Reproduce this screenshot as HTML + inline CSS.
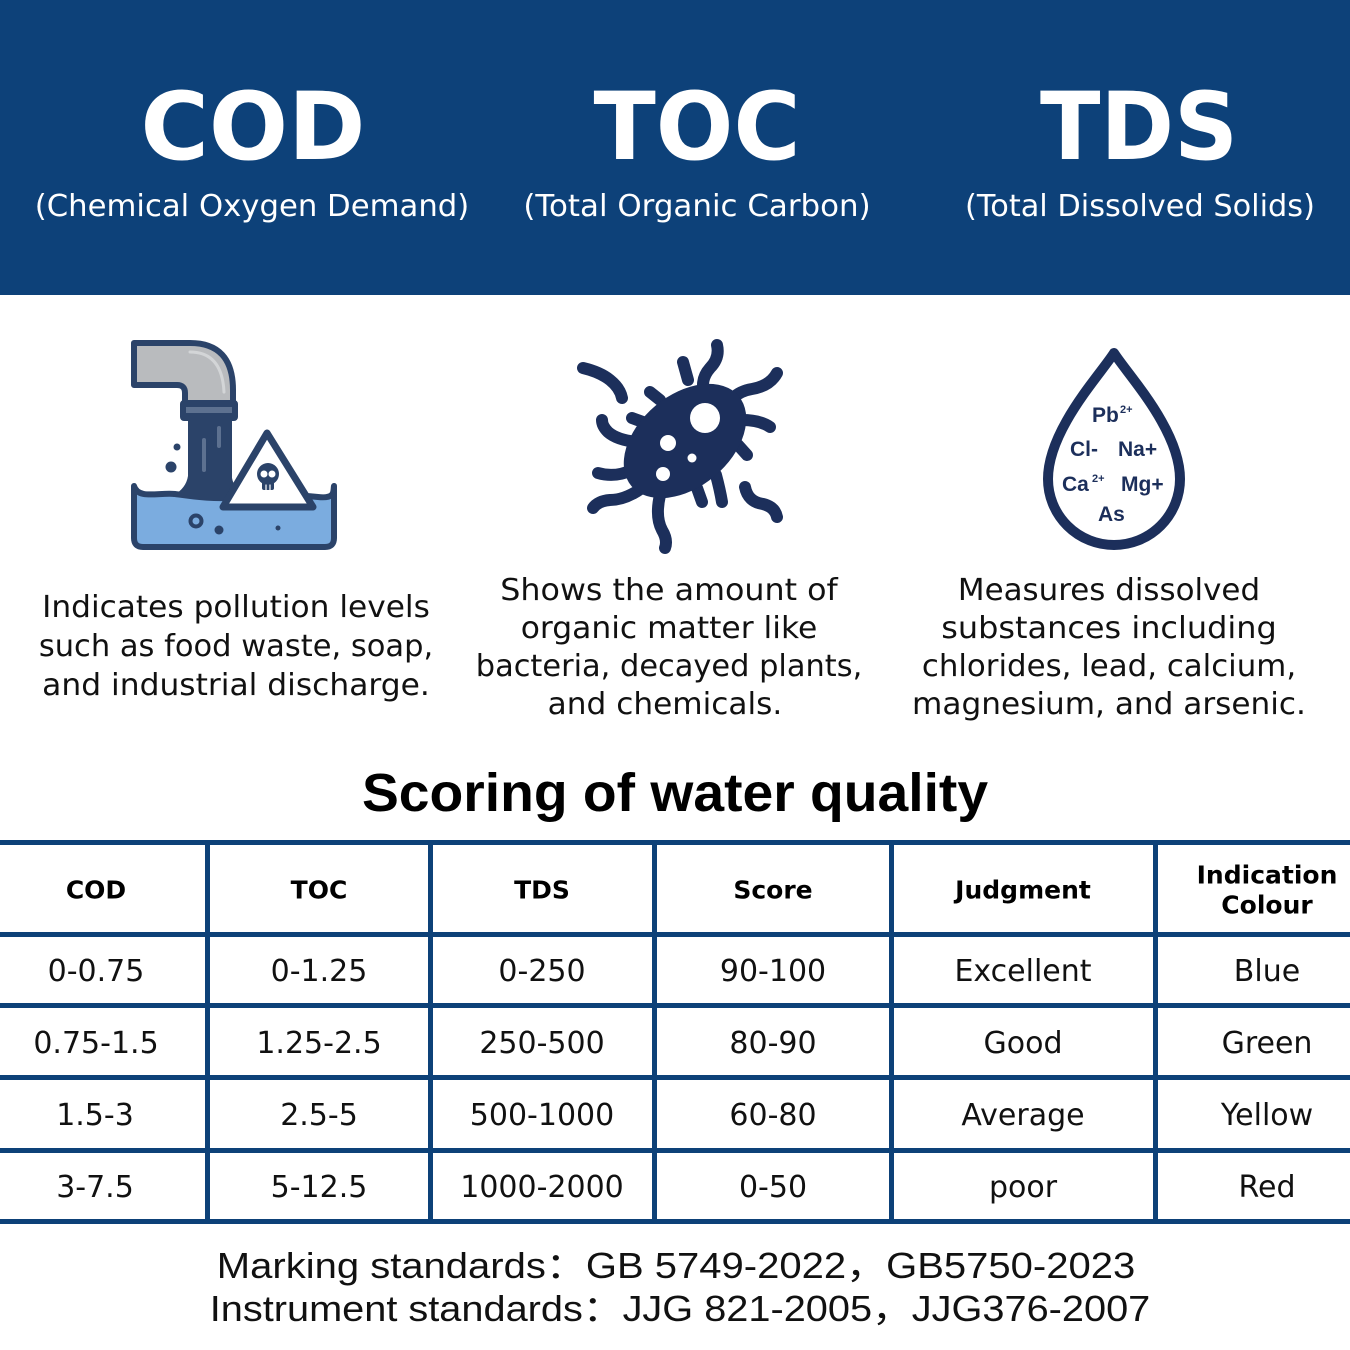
<!DOCTYPE html>
<html>
<head>
<meta charset="utf-8">
<style>
  html,body{margin:0;padding:0;background:#fff;}
  #wrap{position:relative;width:1350px;height:1350px;overflow:hidden;background:#fff;}
  svg.bg{position:absolute;left:0;top:0;}
  .ln{position:absolute;white-space:nowrap;line-height:1;transform:translate(-50%,-50%);transform-origin:50% 50%;}
  .hd{font-family:"DejaVu Sans",sans-serif;font-weight:bold;font-size:94px;color:#fff;}
  .sub{font-family:"DejaVu Sans",sans-serif;font-size:30px;color:#fff;}
  .body{font-family:"DejaVu Sans",sans-serif;font-size:30.5px;color:#111;}
  .ttl{font-family:"Liberation Sans",sans-serif;font-weight:bold;font-size:54px;color:#000;}
  .th{font-family:"DejaVu Sans",sans-serif;font-weight:bold;font-size:25px;color:#000;}
  .td{font-family:"DejaVu Sans",sans-serif;font-size:30px;color:#111;}
  .ft{font-family:"Liberation Sans","Noto Sans CJK SC",sans-serif;font-size:36px;color:#111;}
</style>
</head>
<body>
<div id="wrap">
<svg class="bg" width="1350" height="1350" viewBox="0 0 1350 1350" xmlns="http://www.w3.org/2000/svg">
  <rect x="0" y="0" width="1350" height="295" fill="#0d4179"/>

  <!-- ===== Pipe icon ===== -->
  <g stroke="#2b4369" stroke-linejoin="round" stroke-linecap="round">
    <path d="M134 343 L190 343 Q233 343 233 390 L233 403 L185 403 L185 393 Q185 385 177 385 L134 385 Z" fill="#b9bbbe" stroke-width="6"/>
    <path d="M190 352 Q222 352 224 392" fill="none" stroke="#d3d5d7" stroke-width="3"/>
    <path d="M134 486 C138 500,160 492,175 494 S215 500,240 497 S300 495,318 497 S333 491,334 486 L334 538 Q334 547 325 547 L143 547 Q134 547 134 538 Z" fill="#7bacdf" stroke-width="6"/>
    <path d="M189 419 L231 419 L231 478 Q233 490 246 496 L174 496 Q187 489 189 476 Z" fill="#2b4369" stroke-width="2"/>
    <rect x="181" y="401" width="56" height="19" rx="3" fill="#2b4369" stroke-width="2"/>
    <rect x="186" y="407" width="46" height="6" fill="#5d7190" stroke="none"/>
    <line x1="204" y1="440" x2="204" y2="470" stroke="#5d7190" stroke-width="4"/>
    <line x1="219" y1="428" x2="219" y2="446" stroke="#5d7190" stroke-width="4"/>
    <path d="M267 433 L313 507 L223 507 Z" fill="#fff" stroke-width="7"/>
    <circle cx="268" cy="474" r="11" fill="#2b4369" stroke="none"/>
    <rect x="262" y="480" width="12" height="10" rx="2" fill="#2b4369" stroke="none"/>
    <circle cx="264" cy="474" r="3.5" fill="#fff" stroke="none"/>
    <circle cx="272" cy="474" r="3.5" fill="#fff" stroke="none"/>
    <line x1="266" y1="485" x2="266" y2="490" stroke="#fff" stroke-width="1.2"/>
    <line x1="270" y1="485" x2="270" y2="490" stroke="#fff" stroke-width="1.2"/>
    <circle cx="177" cy="447" r="3.5" fill="#2b4369" stroke="none"/>
    <circle cx="171" cy="467" r="5.5" fill="#2b4369" stroke="none"/>
    <circle cx="196" cy="521" r="5.5" fill="none" stroke-width="4"/>
    <circle cx="219" cy="530" r="4.5" fill="#2b4369" stroke="none"/>
    <circle cx="278" cy="528" r="2.5" fill="#2b4369" stroke="none"/>
  </g>

  <!-- ===== Bacteria icon ===== -->
  <g fill="none" stroke="#1c2f5b" stroke-width="12" stroke-linecap="round" stroke-linejoin="round">
    <path d="M583 368 Q600 372 610 380 Q620 388 622 398"/>
    <path d="M683 362 L688 380"/>
    <path d="M717 345 Q720 358 710 368 Q703 376 703 385"/>
    <path d="M777 373 Q770 386 752 389 Q740 391 733 398"/>
    <path d="M770 427 Q760 420 742 420"/>
    <path d="M747 455 L738 445"/>
    <path d="M745 487 Q748 502 763 504 Q775 507 777 517"/>
    <path d="M716 475 Q720 490 722 502"/>
    <path d="M697 488 L702 502"/>
    <path d="M660 495 Q655 517 662 530 Q668 540 665 548"/>
    <path d="M642 488 Q625 500 610 500 Q598 501 593 508"/>
    <path d="M632 470 Q615 478 598 473"/>
    <path d="M637 442 Q617 440 608 432 Q602 426 602 420"/>
    <path d="M632 418 L643 422"/>
    <path d="M650 392 L660 400"/>
  </g>
  <ellipse cx="685" cy="441" rx="70" ry="46" transform="rotate(-40 685 441)" fill="#1c2f5b"/>
  <circle cx="705" cy="418" r="15" fill="#fff"/>
  <circle cx="668" cy="443" r="8" fill="#fff"/>
  <circle cx="692" cy="458" r="4.5" fill="#fff"/>
  <circle cx="663" cy="474" r="7" fill="#fff"/>

  <!-- ===== Drop icon ===== -->
  <path d="M1114 353 C1100 375,1048 430,1048 479 A66 66 0 0 0 1180 479 C1180 430,1128 375,1114 353 Z" fill="#fff" stroke="#1c2f5b" stroke-width="10" stroke-linejoin="round"/>
  <g font-family="Liberation Sans, sans-serif" font-weight="bold" fill="#1c2f5b">
    <text x="1092" y="422" font-size="21">Pb</text>
    <text x="1120" y="413" font-size="11">2+</text>
    <text x="1070" y="456" font-size="21">Cl-</text>
    <text x="1118" y="456" font-size="21">Na+</text>
    <text x="1062" y="491" font-size="21">Ca</text>
    <text x="1092" y="482" font-size="11">2+</text>
    <text x="1121" y="491" font-size="21">Mg+</text>
    <text x="1098" y="521" font-size="21">As</text>
  </g>

  <!-- ===== Table lines ===== -->
  <g fill="#0d4178">
    <rect x="0" y="840" width="1350" height="5"/>
    <rect x="0" y="932" width="1350" height="5"/>
    <rect x="0" y="1003" width="1350" height="5"/>
    <rect x="0" y="1075" width="1350" height="5"/>
    <rect x="0" y="1148" width="1350" height="5"/>
    <rect x="0" y="1219" width="1350" height="5"/>
    <rect x="205" y="840" width="5" height="384"/>
    <rect x="428" y="840" width="5" height="384"/>
    <rect x="652" y="840" width="5" height="384"/>
    <rect x="889" y="840" width="5" height="384"/>
    <rect x="1153" y="840" width="5" height="384"/>
  </g>
</svg>

<!-- header text -->
<div class="ln hd fit" style="left:253px;top:128px;--w:225">COD</div>
<div class="ln hd fit" style="left:697px;top:128px;--w:207">TOC</div>
<div class="ln hd fit" style="left:1139px;top:128px;--w:198">TDS</div>
<div class="ln sub fit" style="left:252px;top:207px;--w:435">(Chemical Oxygen Demand)</div>
<div class="ln sub fit" style="left:697px;top:207px;--w:347">(Total Organic Carbon)</div>
<div class="ln sub fit" style="left:1140px;top:207px;--w:350">(Total Dissolved Solids)</div>

<!-- descriptions -->
<div class="ln body fit" style="left:236px;top:608px;--w:388">Indicates pollution levels</div>
<div class="ln body fit" style="left:236px;top:647px;--w:394">such as food waste, soap,</div>
<div class="ln body fit" style="left:236px;top:686px;--w:388">and industrial discharge.</div>

<div class="ln body fit" style="left:669px;top:591px;--w:337">Shows the amount of</div>
<div class="ln body fit" style="left:669px;top:629px;--w:297">organic matter like</div>
<div class="ln body fit" style="left:669px;top:667px;--w:387">bacteria, decayed plants,</div>
<div class="ln body fit" style="left:665px;top:705px;--w:235">and chemicals.</div>

<div class="ln body fit" style="left:1109px;top:591px;--w:302">Measures dissolved</div>
<div class="ln body fit" style="left:1109px;top:629px;--w:335">substances including</div>
<div class="ln body fit" style="left:1109px;top:667px;--w:374">chlorides, lead, calcium,</div>
<div class="ln body fit" style="left:1109px;top:705px;--w:394">magnesium, and arsenic.</div>

<!-- title -->
<div class="ln ttl fit" style="left:675px;top:793px;--w:626">Scoring of water quality</div>

<!-- table header -->
<div class="ln th" style="left:96px;top:890px;">COD</div>
<div class="ln th" style="left:319px;top:890px;">TOC</div>
<div class="ln th" style="left:542px;top:890px;">TDS</div>
<div class="ln th" style="left:773px;top:890px;">Score</div>
<div class="ln th" style="left:1023px;top:890px;">Judgment</div>
<div class="ln th" style="left:1267px;top:875px;">Indication</div>
<div class="ln th" style="left:1267px;top:905px;">Colour</div>

<!-- table rows -->
<div class="ln td" style="left:96px;top:972px;">0-0.75</div>
<div class="ln td" style="left:319px;top:972px;">0-1.25</div>
<div class="ln td" style="left:542px;top:972px;">0-250</div>
<div class="ln td" style="left:773px;top:972px;">90-100</div>
<div class="ln td" style="left:1023px;top:972px;">Excellent</div>
<div class="ln td" style="left:1267px;top:972px;">Blue</div>

<div class="ln td" style="left:96px;top:1044px;">0.75-1.5</div>
<div class="ln td" style="left:319px;top:1044px;">1.25-2.5</div>
<div class="ln td" style="left:542px;top:1044px;">250-500</div>
<div class="ln td" style="left:773px;top:1044px;">80-90</div>
<div class="ln td" style="left:1023px;top:1044px;">Good</div>
<div class="ln td" style="left:1267px;top:1044px;">Green</div>

<div class="ln td" style="left:95px;top:1116px;">1.5-3</div>
<div class="ln td" style="left:319px;top:1116px;">2.5-5</div>
<div class="ln td" style="left:542px;top:1116px;">500-1000</div>
<div class="ln td" style="left:773px;top:1116px;">60-80</div>
<div class="ln td" style="left:1023px;top:1116px;">Average</div>
<div class="ln td" style="left:1267px;top:1116px;">Yellow</div>

<div class="ln td" style="left:95px;top:1188px;">3-7.5</div>
<div class="ln td" style="left:319px;top:1188px;">5-12.5</div>
<div class="ln td" style="left:542px;top:1188px;">1000-2000</div>
<div class="ln td" style="left:773px;top:1188px;">0-50</div>
<div class="ln td" style="left:1023px;top:1188px;">poor</div>
<div class="ln td" style="left:1267px;top:1188px;">Red</div>

<!-- footer -->
<div class="ln ft fit" style="left:676px;top:1266px;--w:919">Marking standards：GB 5749-2022，GB5750-2023</div>
<div class="ln ft fit" style="left:680px;top:1309px;--w:940">Instrument standards：JJG 821-2005，JJG376-2007</div>
</div>
<script>
(function(){
  var els=document.querySelectorAll('.fit');
  for(var i=0;i<els.length;i++){
    var el=els[i];
    var w=parseFloat(getComputedStyle(el).getPropertyValue('--w'));
    var cur=el.offsetWidth;
    if(w&&cur){
      var k=w/cur;
      el.style.transform='translate(-50%,-50%) scaleX('+k.toFixed(4)+')';
    }
  }
})();
</script>
</body>
</html>
